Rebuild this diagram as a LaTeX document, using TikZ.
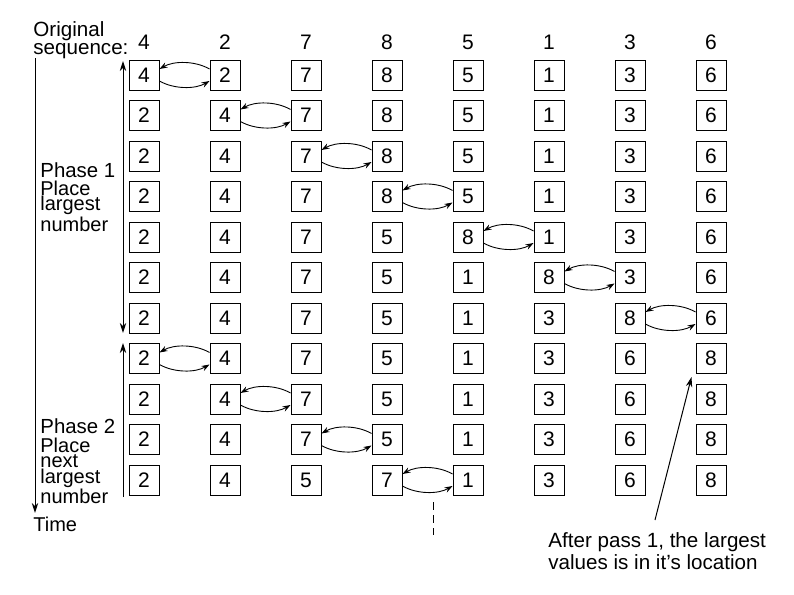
\documentclass[tikz,border=0pt]{standalone}
\usepackage{fontspec}
\setmainfont{Liberation Sans}
\usetikzlibrary{arrows.meta, positioning}

\begin{document}
\begin{tikzpicture}[
  x=0.5pt, y=-0.5pt,
  cell/.style={draw, line width=0.5pt, minimum size=15pt, inner sep=0pt,
               font=\fontsize{10.5}{12}\selectfont},
  head/.style={inner sep=0pt, font=\fontsize{10.5}{12}\selectfont},
  lbl/.style={align=left, inner sep=0pt, anchor=west,
              font=\fontsize{10}{7.6}\selectfont},
  swp/.style={-{Stealth[length=4pt, width=2.8pt]}, line width=0.45pt, looseness=0.85},
  arr/.style={line width=0.5pt, >={Stealth[length=5pt, width=3.2pt]}},
]
\useasboundingbox (0,0) rectangle (794,595);

%% header
\node[lbl, font=\fontsize{10.3}{6.8}\selectfont] (orig) at (33,40) {Original\\sequence:};
\foreach \v [count=\c] in {4,2,7,8,5,1,3,6}
  \node[head] (h\c) at ({144+81*(\c-1)},42) {\v};

%% one row per step of the sort
\foreach \seq [count=\r] in {
    {4,2,7,8,5,1,3,6}, {2,4,7,8,5,1,3,6}, {2,4,7,8,5,1,3,6},
    {2,4,7,8,5,1,3,6}, {2,4,7,5,8,1,3,6}, {2,4,7,5,1,8,3,6},
    {2,4,7,5,1,3,8,6}, {2,4,7,5,1,3,6,8}, {2,4,7,5,1,3,6,8},
    {2,4,7,5,1,3,6,8}, {2,4,5,7,1,3,6,8}}
  \foreach \v [count=\c] in \seq
    \node[cell] (b\r-\c) at ({144+81*(\c-1)},{75+40.5*(\r-1)}) {\v};

%% compare and swap
\foreach \r/\c in {1/1,2/2,3/3,4/4,5/5,6/6,7/7,8/1,9/2,10/3,11/4} {
  \pgfmathtruncatemacro\d{\c+1}
  \draw[swp] ([yshift=3pt]b\r-\d.west) to[out=150, in=30] ([yshift=3pt]b\r-\c.east);
  \draw[swp] ([yshift=-3pt]b\r-\c.east) to[out=-30, in=-150] ([yshift=-3pt]b\r-\d.west);
}

%% time axis and phases
\coordinate (t0) at (35,58);
\coordinate (t1) at (35,513);
\draw[arr, ->] (t0) -- (t1);
\node[lbl, font=\fontsize{10}{11}\selectfont] (time) at (33,524) {Time};

\coordinate (p1a) at (123,61);
\coordinate (p1b) at (123,333);
\draw[arr, <->] (p1a) -- (p1b);
\node[lbl, font=\fontsize{10.2}{11}\selectfont] (ph1) at (40,170) {Phase 1};
\node[lbl] (pl1) at (40,206) {Place\\largest\\number};

\coordinate (p2a) at (123,343);
\coordinate (p2b) at (123,497);
\draw[arr, ->] (p2b) -- (p2a);
\node[lbl, font=\fontsize{10.2}{11}\selectfont] (ph2) at (40,426) {Phase 2};
\node[lbl] (pl2) at (40,471) {Place\\next\\largest\\number};

%% note
\coordinate (d0) at (433,502);
\coordinate (d1) at (433,535);
\draw[line width=0.5pt, dash pattern=on 4pt off 2.5pt] (d0) -- (d1);

\node[lbl, font=\fontsize{10.3}{11}\selectfont] (note) at (548,551)
  {After pass 1, the largest\\values is in it’s location};
\coordinate (nt) at (655,520);
\draw[arr, ->] (nt) -- ([xshift=-2pt, yshift=-1.5pt]b8-8.south west);
\end{tikzpicture}
\end{document}
